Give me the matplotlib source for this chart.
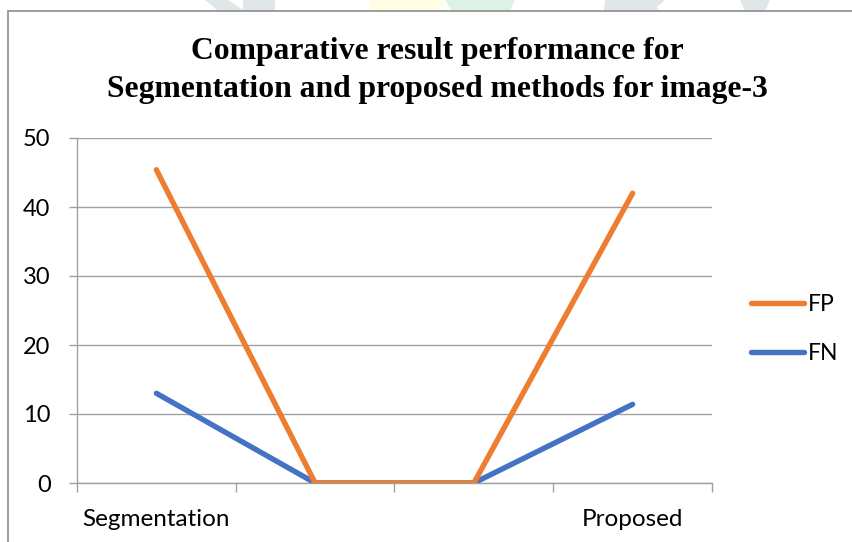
import matplotlib
matplotlib.use("Agg")
import matplotlib.pyplot as plt
from matplotlib.patches import Polygon, Rectangle
from matplotlib.ticker import FixedLocator, NullFormatter

# Data
categories = ["Segmentation", "", "", "Proposed"]
fp_values = [45.4, 0, 0, 42.0]
fn_values = [13.0, 0, 0, 11.4]
y_ticks = [0, 10, 20, 30, 40, 50]
series_names = ["FP", "FN"]

ORANGE = "#ED7D31"
BLUE = "#4472C4"
GRID = "#A0A0A0"
TEXT_FONT = ["Lato", "DejaVu Sans"]

W, H = 853, 542
fig = plt.figure(figsize=(W / 100, H / 100), dpi=100)
fig.patch.set_facecolor("white")

# faint background shapes along the top edge
bg = fig.add_axes([0, 0, 1, 1], zorder=-5)
bg.set_xlim(0, W)
bg.set_ylim(H, 0)
bg.axis("off")
shapes = [
    ([(205, 0), (228, 0), (245, 11), (218, 11)], "#E1E6E9"),
    ([(243, 0), (275, 0), (275, 11), (243, 11)], "#E1E6E9"),
    ([(368, 0), (445, 0), (438, 11), (372, 11)], "#FFFDE3"),
    ([(445, 0), (515, 0), (510, 11), (452, 11)], "#DDF2E6"),
    ([(605, 0), (650, 0), (660, 11), (604, 11)], "#E1E6E9"),
    ([(640, 0), (665, 0), (652, 11), (640, 11)], "#E1E6E9"),
    ([(740, 0), (770, 0), (765, 11), (745, 11)], "#E1E6E9"),
]
for pts, col in shapes:
    bg.add_patch(Polygon(pts, closed=True, facecolor=col, edgecolor="none"))

# chart frame
fig.patches.append(Rectangle((8 / W, -0.1), 1.2, 1 - 11 / H + 0.1,
                             transform=fig.transFigure, fill=False,
                             edgecolor="#8C8C8C", linewidth=1.2, zorder=-1))

ax = fig.add_axes([77 / W, 1 - 483 / H, (712 - 77) / W, (483 - 138) / H])
x = list(range(len(categories)))
ax.plot(x, fp_values, color=ORANGE, linewidth=3.9, solid_capstyle="round",
        solid_joinstyle="round", label=series_names[0], zorder=3)
ax.plot(x, fn_values, color=BLUE, linewidth=3.9, solid_capstyle="round",
        solid_joinstyle="round", label=series_names[1], zorder=2)

ax.set_xlim(-0.5, len(categories) - 0.5)
ax.set_ylim(0, 50)
ax.set_yticks(y_ticks)
ax.yaxis.grid(True, color=GRID, linewidth=1.0)
ax.set_axisbelow(True)

ax.set_xticks(x)
ax.set_xticklabels(categories)
ax.xaxis.set_minor_locator(FixedLocator([i - 0.5 for i in range(len(categories) + 1)]))
ax.xaxis.set_minor_formatter(NullFormatter())
ax.tick_params(axis="x", which="major", length=0, pad=19, labelsize=17.5)
ax.tick_params(axis="x", which="minor", length=6.5, width=1.0, color=GRID)
ax.tick_params(axis="y", length=6, width=1.0, color=GRID, pad=13, labelsize=17)
for lbl in ax.get_xticklabels() + ax.get_yticklabels():
    lbl.set_fontfamily(TEXT_FONT)
    lbl.set_color("#000000")

for side in ("top", "right"):
    ax.spines[side].set_visible(False)
for side in ("left", "bottom"):
    ax.spines[side].set_color(GRID)
    ax.spines[side].set_linewidth(1.0)

leg = ax.legend(loc="center left", bbox_to_anchor=(1.062, 0.446), frameon=False,
                prop={"family": TEXT_FONT, "size": 16.5}, handlelength=2.3,
                handletextpad=0.15, labelspacing=1.2, borderaxespad=0,
                borderpad=0)

fig.text(437 / W, 1 - 52 / H, "Comparative result performance for",
         ha="center", va="center", fontsize=22.8, fontweight="bold",
         family="Liberation Serif")
fig.text(437 / W, 1 - 90 / H, "Segmentation and proposed methods for image-3",
         ha="center", va="center", fontsize=22.8, fontweight="bold",
         family="Liberation Serif")

fig.savefig("out.png", dpi=100, facecolor="white")
